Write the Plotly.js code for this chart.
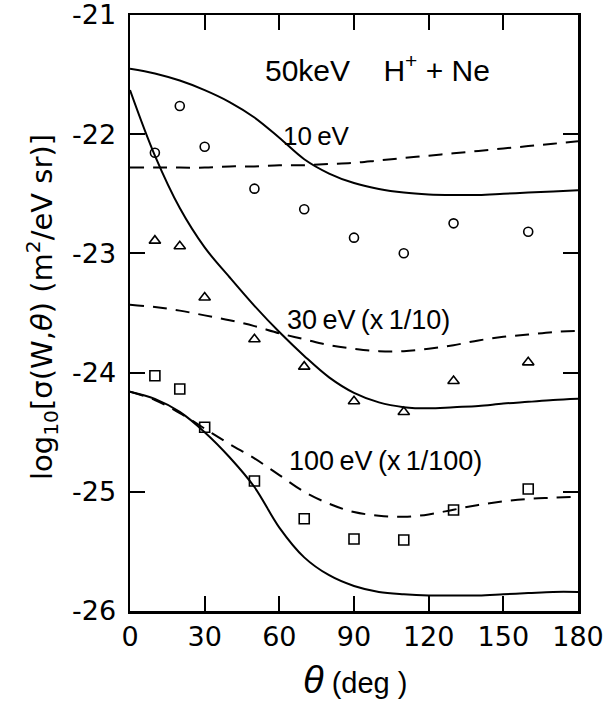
<!DOCTYPE html>
<html>
<head>
<meta charset="utf-8">
<script src="https://cdn.plot.ly/plotly-3.0.1.min.js"></script>
<style>html,body{margin:0;padding:0;background:#fff;}#chart{width:612px;height:704px;}</style>
</head>
<body>
<div id="chart"></div>
<script>
// Curve angles (deg)
const thetaCurve = [0,10,20,30,40,50,60,70,80,90,100,110,120,130,140,150,160,170,180];
// 10 eV
const solid10 = [-21.45,-21.49,-21.55,-21.63,-21.73,-21.86,-22.03,-22.21,-22.33,-22.41,-22.46,-22.49,-22.505,-22.51,-22.51,-22.50,-22.49,-22.48,-22.47];
const dash10  = [-22.28,-22.28,-22.28,-22.28,-22.27,-22.27,-22.26,-22.26,-22.25,-22.24,-22.22,-22.20,-22.18,-22.16,-22.14,-22.12,-22.10,-22.08,-22.06];
// 30 eV (x1/10)
const solid30 = [-21.63,-22.18,-22.62,-22.95,-23.20,-23.44,-23.66,-23.86,-24.04,-24.17,-24.25,-24.29,-24.30,-24.29,-24.28,-24.26,-24.245,-24.23,-24.22];
const dash30  = [-23.43,-23.45,-23.48,-23.52,-23.56,-23.61,-23.67,-23.72,-23.77,-23.80,-23.82,-23.82,-23.80,-23.77,-23.73,-23.70,-23.68,-23.66,-23.65];
// 100 eV (x1/100)
const solid100 = [-24.16,-24.22,-24.33,-24.50,-24.71,-24.96,-25.30,-25.55,-25.70,-25.79,-25.84,-25.86,-25.87,-25.87,-25.87,-25.86,-25.85,-25.84,-25.84];
const dash100  = [-24.16,-24.23,-24.34,-24.47,-24.60,-24.72,-24.86,-25.00,-25.10,-25.17,-25.20,-25.21,-25.19,-25.15,-25.11,-25.08,-25.06,-25.05,-25.04];
// Measured points
const thetaMeas = [10,20,30,50,70,90,110,130,160];
const meas10  = [-22.155,-21.763,-22.105,-22.457,-22.63,-22.868,-22.999,-22.748,-22.818];
const meas30  = [-22.893,-22.94,-23.37,-23.72,-23.95,-24.24,-24.33,-24.07,-23.914];
const meas100 = [-24.026,-24.138,-24.459,-24.909,-25.226,-25.396,-25.404,-25.153,-24.977];
// Ticks
const xTicks = [0,30,60,90,120,150,180];
const yTicks = [-26,-25,-24,-23,-22,-21];
const yTickText = ["-26","-25","-24","-23","-22","-21"];

const FONT = "'Liberation Sans', Arial, sans-serif";
const TFONT = "'DejaVu Sans', sans-serif";
function line(y, dashed){
  return {x: thetaCurve, y: y, mode:'lines', type:'scatter',
    line:{color:'#000', width:2, shape:'spline', smoothing:1, dash: dashed ? '14px,9px' : 'solid'},
    hoverinfo:'skip', showlegend:false};
}
function pts(y, sym, size){
  return {x: thetaMeas, y: y, mode:'markers', type:'scatter',
    marker:{symbol:sym, size:size, color:'#000', line:{color:'#000', width:1.6}},
    showlegend:false};
}
const data = [
  line(solid10,false), line(dash10,true),
  line(solid30,false), line(dash30,true),
  line(solid100,false), line(dash100,true),
  pts(meas10,'circle-open',9), pts(meas30,'triangle-up-open',10), pts(meas100,'square-open',10)
];
const axisCommon = {showgrid:false, zeroline:false, showline:true, linecolor:'#000', linewidth:2.5,
  mirror:'ticks', ticks:'inside', ticklen:15, tickwidth:2, tickcolor:'#000',
  ticklabeloverflow:'allow',
  tickfont:{family:TFONT, size:27, color:'#000'}};
const px = v => (v-130)/448;
const py = v => (611-v)/596;
const T = '\u2009';
function ann(x, y, text, size, extra){
  return Object.assign({xref:'paper', yref:'paper', x:px(x), y:py(y), xanchor:'center', yanchor:'middle',
    text:text, showarrow:false, font:{size:size, family:FONT, color:'#000'}}, extra||{});
}
const layout = {
  width:612, height:704,
  margin:{l:130, r:34, t:15, b:93},
  paper_bgcolor:'#fff', plot_bgcolor:'#fff',
  font:{family:FONT, color:'#000'},
  xaxis: Object.assign({}, axisCommon, {range:[0,180], tickvals:xTicks, ticktext:xTicks.map(String)}),
  yaxis: Object.assign({}, axisCommon, {range:[-26,-21], tickvals:yTicks, ticktext:yTickText, ticklabelstandoff:6}),
  annotations:[
    ann(377, 68, '50keV    H<sup>+</sup> + Ne', 30),
    ann(316, 136, '10'+T+'eV', 26),
    ann(368, 320, '30'+T+'eV'+T+'(x'+T+'1/10)', 27),
    ann(385, 461, '100'+T+'eV'+T+'(x'+T+'1/100)', 27),
    ann(42, 307, 'log<sub>10</sub>[σ(W,<i>θ</i>) (m<sup>2</sup>/eV sr)]', 29, {textangle:-90, font:{size:29, family:TFONT, color:'#000'}}),
    ann(355, 680, '<i><span style="font-size:38px">θ</span></i> (deg )', 29)
  ]
};
Plotly.newPlot('chart', data, layout, {staticPlot:true, displayModeBar:false});
</script>
</body>
</html>
